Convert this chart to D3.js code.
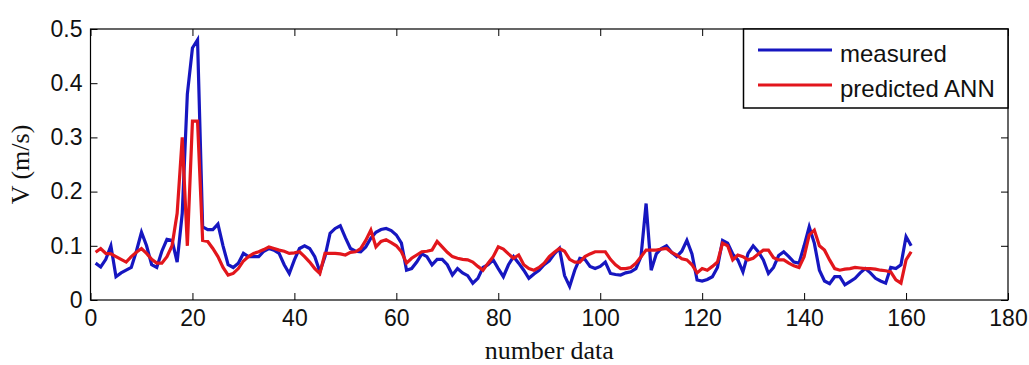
<!DOCTYPE html>
<html>
<head>
<meta charset="utf-8">
<script src="https://cdn.jsdelivr.net/npm/d3@7"></script>
<style>
  html, body { margin: 0; padding: 0; background: #fff; }
  svg { display: block; }
</style>
</head>
<body>
<div id="chart"></div>
<script>
// measured / predicted V (m/s) for sample 1..161
const measured = [
  0.068, 0.061, 0.075, 0.100, 0.043, 0.050, 0.055, 0.060, 0.090, 0.125,
  0.100, 0.065, 0.060, 0.090, 0.112, 0.110, 0.070, 0.160, 0.380, 0.465,
  0.480, 0.135, 0.130, 0.130, 0.140, 0.100, 0.065, 0.060, 0.068, 0.086,
  0.080, 0.080, 0.080, 0.090, 0.095, 0.092, 0.086, 0.065, 0.049, 0.074,
  0.095, 0.100, 0.095, 0.080, 0.052, 0.080, 0.123, 0.132, 0.137, 0.115,
  0.095, 0.090, 0.089, 0.098, 0.114, 0.125, 0.130, 0.132, 0.128, 0.120,
  0.105, 0.055, 0.058, 0.070, 0.085, 0.080, 0.065, 0.075, 0.075, 0.065,
  0.046, 0.058, 0.050, 0.045, 0.031, 0.040, 0.060, 0.065, 0.074, 0.058,
  0.043, 0.065, 0.080, 0.068, 0.055, 0.040, 0.048, 0.055, 0.065, 0.072,
  0.085, 0.095, 0.045, 0.025, 0.055, 0.077, 0.075, 0.062, 0.058, 0.062,
  0.070, 0.049, 0.047, 0.046, 0.050, 0.052, 0.058, 0.080, 0.178, 0.055,
  0.085, 0.095, 0.100, 0.088, 0.080, 0.090, 0.110, 0.085, 0.037, 0.035,
  0.038, 0.043, 0.060, 0.110, 0.105, 0.085, 0.074, 0.052, 0.086, 0.100,
  0.089, 0.074, 0.049, 0.060, 0.082, 0.089, 0.080, 0.070, 0.068, 0.100,
  0.135, 0.105, 0.055, 0.035, 0.030, 0.043, 0.043, 0.028, 0.034, 0.040,
  0.050, 0.058, 0.050, 0.040, 0.035, 0.031, 0.060, 0.058, 0.065, 0.117,
  0.100
];
const predicted = [
  0.088, 0.095, 0.086, 0.085, 0.080, 0.075, 0.070, 0.080, 0.088, 0.095,
  0.086, 0.075, 0.068, 0.068, 0.080, 0.100, 0.160, 0.300, 0.100, 0.330,
  0.330, 0.110, 0.108, 0.095, 0.080, 0.060, 0.046, 0.049, 0.058, 0.072,
  0.080, 0.086, 0.089, 0.093, 0.098, 0.095, 0.092, 0.090, 0.086, 0.087,
  0.089, 0.080, 0.070, 0.058, 0.049, 0.086, 0.086, 0.086, 0.085, 0.083,
  0.088, 0.089, 0.095, 0.110, 0.129, 0.098, 0.108, 0.111, 0.106, 0.100,
  0.089, 0.068, 0.077, 0.083, 0.089, 0.090, 0.092, 0.108, 0.098, 0.088,
  0.080, 0.077, 0.075, 0.074, 0.070, 0.062, 0.055, 0.068, 0.080, 0.098,
  0.094, 0.085, 0.077, 0.083, 0.065, 0.058, 0.055, 0.060, 0.068, 0.080,
  0.088, 0.095, 0.090, 0.075, 0.070, 0.070, 0.080, 0.085, 0.089, 0.089,
  0.089, 0.075, 0.065, 0.058, 0.058, 0.060, 0.068, 0.080, 0.092, 0.092,
  0.092, 0.094, 0.095, 0.088, 0.083, 0.076, 0.074, 0.065, 0.050, 0.058,
  0.055, 0.062, 0.070, 0.105, 0.100, 0.074, 0.083, 0.080, 0.074, 0.077,
  0.085, 0.092, 0.092, 0.078, 0.074, 0.074, 0.068, 0.063, 0.060, 0.080,
  0.120, 0.129, 0.100, 0.092, 0.074, 0.058, 0.055, 0.057, 0.058, 0.060,
  0.059, 0.058, 0.058, 0.057, 0.055, 0.054, 0.052, 0.037, 0.031, 0.074,
  0.089
];
const seriesNames = ['measured', 'predicted ANN'];
const xTicks = [0, 20, 40, 60, 80, 100, 120, 140, 160, 180];
const yTicks = [0, 0.1, 0.2, 0.3, 0.4, 0.5];
const yTickLabels = ['0', '0.1', '0.2', '0.3', '0.4', '0.5'];

const width = 1029, height = 365;
const margin = { top: 29, right: 21, bottom: 65, left: 90.5 };
const colors = ['#1616c0', '#e2161c'];
const sans = '"Liberation Sans", Arial, Helvetica, sans-serif';
const serif = '"Liberation Serif", "Times New Roman", serif';

const svg = d3.select('#chart').append('svg')
  .attr('width', width)
  .attr('height', height);

const xScale = d3.scaleLinear().domain([0, 180]).range([margin.left, width - margin.right]);
const yScale = d3.scaleLinear().domain([0, 0.5]).range([height - margin.bottom, margin.top]);

const plotBottom = height - margin.bottom;
const plotRight = width - margin.right;

// axes, ticks pointing inward like matlab
const xAxis = d3.axisBottom(xScale).tickValues(xTicks).tickSizeInner(-7).tickSizeOuter(0).tickPadding(10);
const yAxis = d3.axisLeft(yScale).tickValues(yTicks).tickFormat((d, i) => yTickLabels[i])
  .tickSizeInner(-7).tickSizeOuter(0).tickPadding(8);

svg.append('g').attr('transform', `translate(0,${plotBottom})`).call(xAxis);
svg.append('g').attr('transform', `translate(${margin.left},0)`).call(yAxis);
svg.append('g').attr('transform', `translate(0,${margin.top})`)
  .call(d3.axisTop(xScale).tickValues(xTicks).tickSizeInner(-7).tickSizeOuter(0).tickFormat(''));
svg.append('g').attr('transform', `translate(${plotRight},0)`)
  .call(d3.axisRight(yScale).tickValues(yTicks).tickSizeInner(-7).tickSizeOuter(0).tickFormat(''));

svg.selectAll('.domain').remove();
svg.selectAll('.tick line').attr('stroke', '#000');
svg.selectAll('.tick text')
  .attr('fill', '#111')
  .attr('font-family', sans)
  .attr('font-size', '23px');

// lines
const line = d3.line()
  .x((d, i) => xScale(i + 1))
  .y(d => yScale(d));

[measured, predicted].forEach((s, k) => {
  svg.append('path')
    .datum(s)
    .attr('fill', 'none')
    .attr('stroke', colors[k])
    .attr('stroke-width', 3.2)
    .attr('stroke-linejoin', 'miter')
    .attr('d', line);
});

// frame
svg.append('rect')
  .attr('x', margin.left)
  .attr('y', margin.top)
  .attr('width', plotRight - margin.left)
  .attr('height', plotBottom - margin.top)
  .attr('fill', 'none')
  .attr('stroke', '#000')
  .attr('stroke-width', 1.2);

// legend
const legend = svg.append('g');
legend.append('rect')
  .attr('x', 743.5)
  .attr('y', margin.top)
  .attr('width', plotRight - 743.5)
  .attr('height', 79)
  .attr('fill', '#fff')
  .attr('stroke', '#000')
  .attr('stroke-width', 1.5);

seriesNames.forEach((name, i) => {
  const ly = 50 + i * 35;
  legend.append('line')
    .attr('x1', 758).attr('x2', 832)
    .attr('y1', ly).attr('y2', ly)
    .attr('stroke', colors[i])
    .attr('stroke-width', 3);
  legend.append('text')
    .attr('x', 840)
    .attr('y', ly + 12)
    .attr('font-family', sans)
    .attr('font-size', '24px')
    .attr('fill', '#111')
    .text(name);
});

// axis titles
svg.append('text')
  .attr('x', (margin.left + plotRight) / 2)
  .attr('y', 359)
  .attr('text-anchor', 'middle')
  .attr('font-family', serif)
  .attr('font-size', '26px')
  .attr('fill', '#111')
  .text('number data');

svg.append('text')
  .attr('transform', `translate(29,${(margin.top + plotBottom) / 2}) rotate(-90)`)
  .attr('text-anchor', 'middle')
  .attr('font-family', serif)
  .attr('font-size', '26px')
  .attr('fill', '#111')
  .text('V (m/s)');
</script>
</body>
</html>
